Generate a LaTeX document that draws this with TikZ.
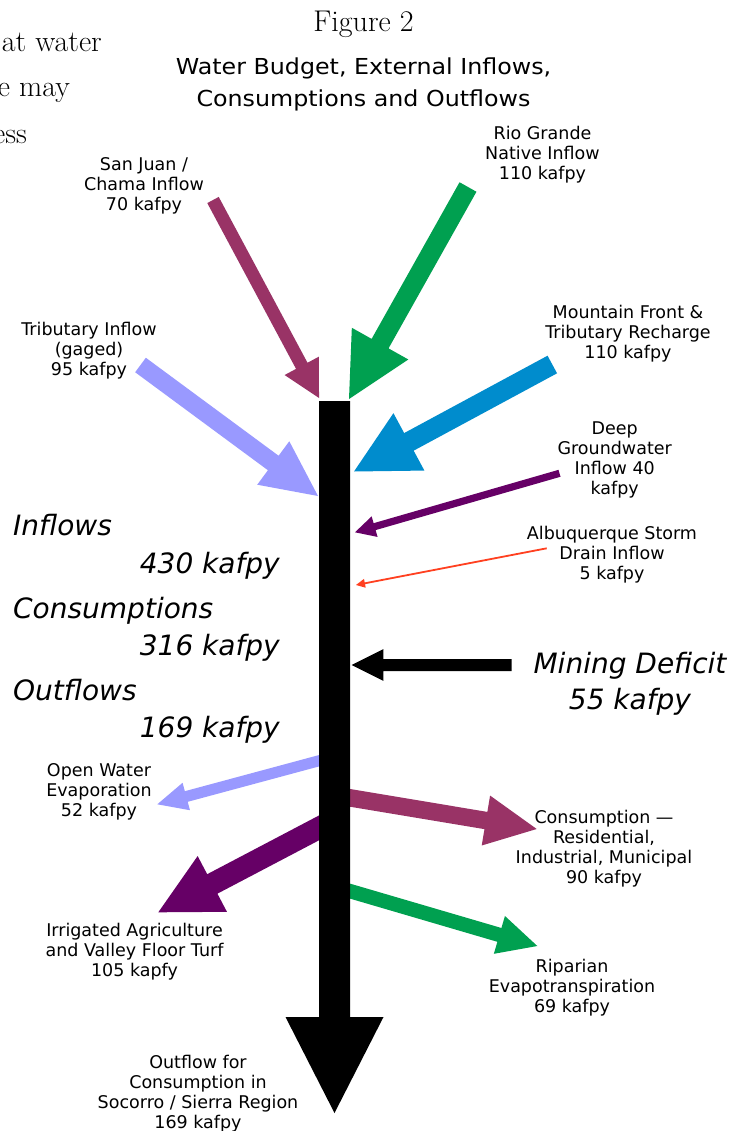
\documentclass[tikz,border=0pt]{standalone}
\usepackage{fontspec}
\usetikzlibrary{calc}
\newfontfamily\dv{DejaVu Sans}
\newfontfamily\dvwide{DejaVu Sans}[FakeStretch=1.08]
\definecolor{cMaroon}{RGB}{153,51,102}
\definecolor{cGreen}{RGB}{0,160,80}
\definecolor{cLav}{RGB}{153,153,255}
\definecolor{cBlue}{RGB}{0,140,205}
\definecolor{cPurple}{RGB}{102,0,102}
\definecolor{cRed}{RGB}{255,64,32}
% #1 style, #2 start, #3 tip, #4 shaft half width, #5 head length, #6 head half width
\newcommand\fatarrow[6]{%
  \coordinate (fa-h) at ($(#3)!#5!(#2)$);
  \fill[#1] ($(#2)!#4!90:(#3)$) -- ($(fa-h)!#4!90:(#3)$) -- ($(fa-h)!#6!90:(#3)$)
    -- (#3) -- ($(fa-h)!#6!-90:(#3)$) -- ($(fa-h)!#4!-90:(#3)$) -- ($(#2)!#4!-90:(#3)$) -- cycle;
}
\begin{document}
\begin{tikzpicture}[x=1pt,y=-1pt,
  lbl/.style={font=\dv\fontsize{17.5}{20}\selectfont, align=center, inner sep=0pt},
  big/.style={font=\dv\itshape\fontsize{28}{36}\selectfont, inner sep=0pt},
  serifbg/.style={font=\fontsize{30}{36}\selectfont, inner sep=0pt, anchor=base east},
  sub/.style={font=\dvwide\fontsize{22}{32}\selectfont, inner sep=0pt, anchor=base}]
\useasboundingbox (0,0) rectangle (747,1131);
\fill[white] (0,0) rectangle (747,1131);

% clipped text from the page
\node[serifbg] (frag1) at (102,51.7) {at water};
\node[serifbg] (frag2) at (70,96.7) {e may};
\node[serifbg] (frag3) at (27,143.3) {ess};

% titles
\node[font=\fontsize{30}{36}\selectfont, inner sep=0pt, anchor=base] (fig) at (363.5,31.7) {Figure 2};
\node[sub] (sub1) at (363.5,75) {Water Budget, External Inflows,};
\node[sub] (sub2) at (363.5,107) {Consumptions and Outflows};

% labels
\node[lbl] (sanjuan) at (144,186) {San Juan /\\Chama Inflow\\70 kafpy};
\node[lbl] (rio) at (542.5,155) {Rio Grande\\Native Inflow\\110 kafpy};
\node[lbl] (trib) at (89,351) {Tributary Inflow\\(gaged)\\95 kafpy};
\node[lbl] (mount) at (628,334) {Mountain Front \&\\Tributary Recharge\\110 kafpy};
\node[lbl] (deep) at (614.7,459.5) {Deep\\Groundwater\\Inflow 40\\kafpy};
\node[lbl] (storm) at (612,555) {Albuquerque Storm\\Drain Inflow\\5 kafpy};
\node[lbl] (openw) at (99,792) {Open Water\\Evaporation\\52 kafpy};
\node[lbl] (cons) at (604,848.5) {Consumption —\\Residential,\\Industrial, Municipal\\90 kafpy};
\node[lbl] (irr) at (134.5,952) {Irrigated Agriculture\\and Valley Floor Turf\\105 kapfy};
\node[lbl] (rip) at (572,988) {Riparian\\Evapotranspiration\\69 kafpy};
\node[lbl] (outf) at (198,1094) {Outflow for\\Consumption in\\Socorro / Sierra Region\\169 kafpy};

% big italic texts
\node[big, anchor=base west] (inT) at (13,535) {Inflows};
\node[big, anchor=base east] (inV) at (280,573) {430 kafpy};
\node[big, anchor=base west] (coT) at (13,618) {Consumptions};
\node[big, anchor=base east] (coV) at (280,655) {316 kafpy};
\node[big, anchor=base west] (ouT) at (13,700) {Outflows};
\node[big, anchor=base east] (ouV) at (280,737) {169 kafpy};
\node[big, anchor=base] (minT) at (630,673) {Mining Deficit};
\node[big, anchor=base] (minV) at (630,709) {55 kafpy};

% arrow end coordinates
\coordinate (sj-s) at (213,200);   \coordinate (sj-t) at (319,398);
\coordinate (rg-s) at (468,187);   \coordinate (rg-t) at (349,399);
\coordinate (tr-s) at (140.5,365); \coordinate (tr-t) at (318,496);
\coordinate (mf-s) at (552.3,364.5); \coordinate (mf-t) at (354,471.5);
\coordinate (dg-s) at (559.5,473.3); \coordinate (dg-t) at (355,532.3);
\coordinate (sd-s) at (546.7,548.3); \coordinate (sd-t) at (356,585);
\coordinate (md-s) at (511.7,665); \coordinate (md-t) at (351.7,665);
\coordinate (bar-s) at (334.5,401); \coordinate (bar-t) at (334.5,1113);
\coordinate (ow-s) at (334,756.7); \coordinate (ow-t) at (157.3,804.3);
\coordinate (ir-s) at (334,820);   \coordinate (ir-t) at (158.3,912.3);
\coordinate (cr-s) at (336,795.5); \coordinate (cr-t) at (536.7,829);
\coordinate (rp-s) at (336,887);   \coordinate (rp-t) at (537.3,946);

% inflows
\fatarrow{cMaroon}{sj-s}{sj-t}{6.5pt}{36.5pt}{19.5pt}
\fatarrow{cGreen}{rg-s}{rg-t}{9.7pt}{63.5pt}{32.4pt}
\fatarrow{cLav}{tr-s}{tr-t}{9pt}{55.6pt}{27pt}
\fatarrow{cBlue}{mf-s}{mf-t}{10pt}{62.4pt}{32.6pt}
\fatarrow{cPurple}{dg-s}{dg-t}{3.6pt}{20.4pt}{10.7pt}
\fatarrow{cRed}{sd-s}{sd-t}{0.9pt}{9pt}{4.5pt}
\fatarrow{black}{md-s}{md-t}{6pt}{31.6pt}{15.8pt}
% outflows
\fatarrow{cLav}{ow-s}{ow-t}{5.5pt}{30pt}{14.2pt}
\fatarrow{cPurple}{ir-s}{ir-t}{11pt}{61pt}{31.5pt}
\fatarrow{cMaroon}{cr-s}{cr-t}{8.75pt}{51.5pt}{25.3pt}
\fatarrow{cGreen}{rp-s}{rp-t}{7.2pt}{39.5pt}{19.7pt}
% main stem
\fatarrow{black}{bar-s}{bar-t}{15.5pt}{96pt}{49pt}
\end{tikzpicture}
\end{document}
